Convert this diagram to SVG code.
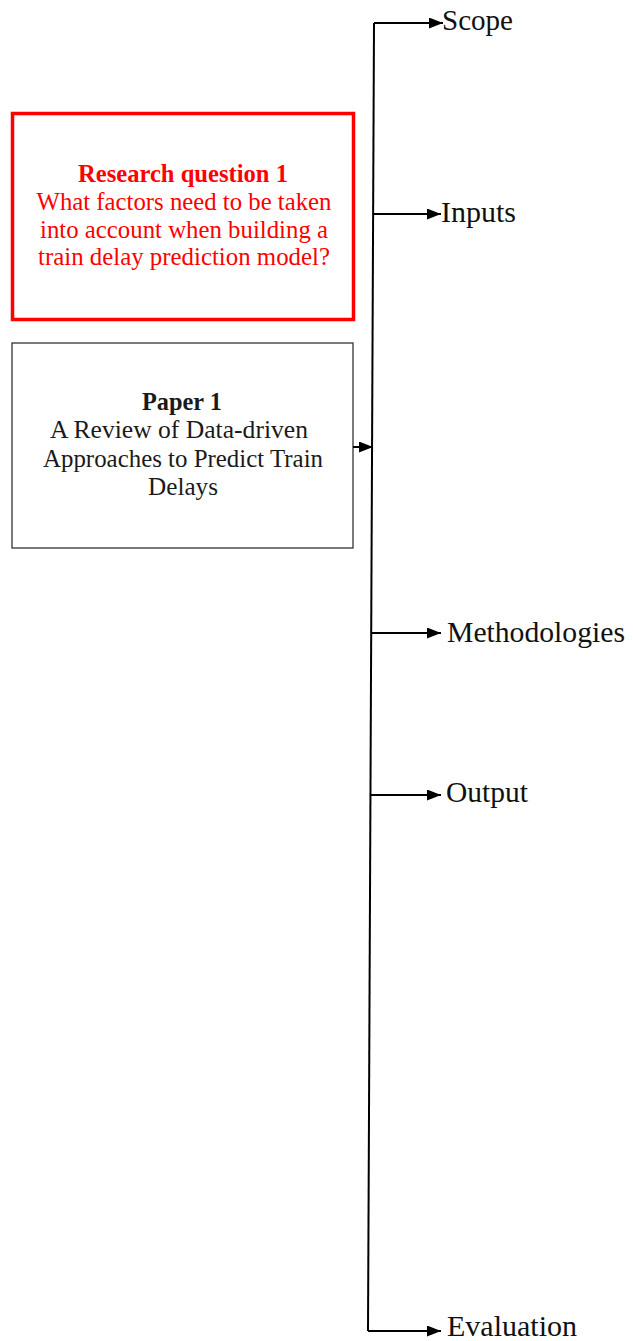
<svg xmlns="http://www.w3.org/2000/svg" width="633" height="1341" viewBox="0 0 633 1341">
  <style>
    .body { font-family: "Liberation Serif", "Times New Roman", serif; font-size: 24.5px; text-anchor: middle; }
    .red { fill: #ff0000; }
    .dark { fill: #1a1a1a; }
    .bold { font-weight: bold; }
    .label { font-family: "Liberation Serif", "Times New Roman", serif; font-size: 29px; fill: #111; }
    .wire { stroke: #000; stroke-width: 2; fill: none; }
  </style>
  <defs>
    <marker id="arrow" viewBox="0 0 14 11" refX="14" refY="5.5" markerWidth="14" markerHeight="11" markerUnits="userSpaceOnUse" orient="auto">
      <path d="M0,0 L14,5.5 L0,11 Z" fill="#000"/>
    </marker>
  </defs>
  <rect width="633" height="1341" fill="#fff"/>

  <!-- research question box -->
  <g id="research-question">
    <rect x="12.5" y="113.5" width="341" height="206" fill="#fff" stroke="#ff0000" stroke-width="3.5"/>
    <text class="body red bold" x="183" y="182" textLength="210" lengthAdjust="spacingAndGlyphs">Research question 1</text>
    <text class="body red" x="184" y="210" textLength="295" lengthAdjust="spacingAndGlyphs">What factors need to be taken</text>
    <text class="body red" x="184" y="238" textLength="288" lengthAdjust="spacingAndGlyphs">into account when building a</text>
    <text class="body red" x="184" y="265" textLength="292" lengthAdjust="spacingAndGlyphs">train delay prediction model?</text>
  </g>

  <!-- source paper box -->
  <g id="paper">
    <rect x="12" y="343" width="341" height="205" fill="#fff" stroke="#333" stroke-width="1.3"/>
    <text class="body dark bold" x="182" y="410" textLength="80" lengthAdjust="spacingAndGlyphs">Paper 1</text>
    <text class="body dark" x="179" y="438" textLength="258" lengthAdjust="spacingAndGlyphs">A Review of Data-driven</text>
    <text class="body dark" x="183" y="467" textLength="280" lengthAdjust="spacingAndGlyphs">Approaches to Predict Train</text>
    <text class="body dark" x="183" y="495" textLength="70" lengthAdjust="spacingAndGlyphs">Delays</text>
  </g>

  <!-- connectors -->
  <g id="connectors">
    <line class="wire" x1="374" y1="23" x2="368" y2="1331"/>
    <line class="wire" x1="374" y1="23" x2="443" y2="23" marker-end="url(#arrow)"/>
    <line class="wire" x1="373" y1="214" x2="441" y2="214" marker-end="url(#arrow)"/>
    <line class="wire" x1="353" y1="447" x2="373" y2="447" marker-end="url(#arrow)"/>
    <line class="wire" x1="371" y1="633" x2="441" y2="633" marker-end="url(#arrow)"/>
    <line class="wire" x1="371" y1="795" x2="441" y2="795" marker-end="url(#arrow)"/>
    <line class="wire" x1="368" y1="1331" x2="441" y2="1331" marker-end="url(#arrow)"/>
  </g>

  <!-- aspect labels -->
  <g id="scope"><text class="label" x="442" y="30" textLength="71" lengthAdjust="spacingAndGlyphs">Scope</text></g>
  <g id="inputs"><text class="label" x="441" y="222" textLength="75" lengthAdjust="spacingAndGlyphs">Inputs</text></g>
  <g id="methodologies"><text class="label" x="447" y="642" textLength="178" lengthAdjust="spacingAndGlyphs">Methodologies</text></g>
  <g id="output"><text class="label" x="446" y="802" textLength="82" lengthAdjust="spacingAndGlyphs">Output</text></g>
  <g id="evaluation"><text class="label" x="447" y="1336" textLength="130" lengthAdjust="spacingAndGlyphs">Evaluation</text></g>
</svg>
